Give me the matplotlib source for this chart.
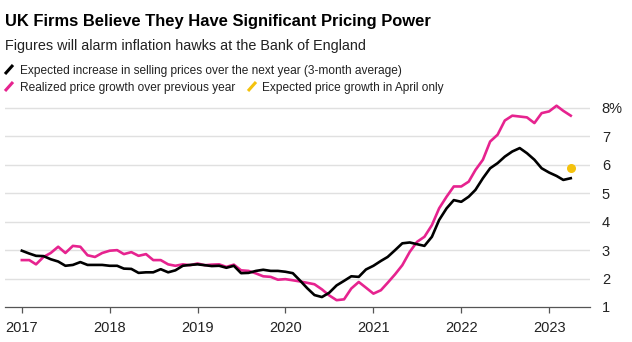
import numpy as np
import pandas as pd
import matplotlib
matplotlib.use("Agg")
from matplotlib import pyplot as plt
from matplotlib.lines import Line2D
import matplotlib.dates as mdates

# Monthly survey figures, Jan 2017 - Apr 2023
months = pd.date_range("2017-01-01", "2023-04-01", freq="MS")

expected = [
    2.98, 2.88, 2.80, 2.79, 2.68, 2.60, 2.45, 2.48, 2.58, 2.48, 2.48, 2.48,
    2.45, 2.45, 2.35, 2.34, 2.20, 2.22, 2.22, 2.33, 2.22, 2.29, 2.45, 2.48,
    2.50, 2.47, 2.44, 2.45, 2.38, 2.45, 2.19, 2.20, 2.27, 2.31, 2.27, 2.27,
    2.24, 2.19, 1.94, 1.66, 1.42, 1.35, 1.50, 1.76, 1.92, 2.08, 2.06, 2.32,
    2.45, 2.62, 2.76, 3.00, 3.24, 3.27, 3.21, 3.15, 3.47, 4.06, 4.47, 4.76,
    4.70, 4.88, 5.12, 5.53, 5.88, 6.06, 6.29, 6.47, 6.59, 6.41, 6.18, 5.88,
    5.73, 5.61, 5.47, 5.53,
]
realized = [
    2.65, 2.65, 2.50, 2.76, 2.90, 3.12, 2.90, 3.15, 3.12, 2.82, 2.76, 2.90,
    2.98, 3.00, 2.86, 2.93, 2.80, 2.86, 2.65, 2.65, 2.50, 2.45, 2.50, 2.47,
    2.53, 2.47, 2.49, 2.50, 2.41, 2.49, 2.29, 2.27, 2.18, 2.08, 2.06, 1.96,
    1.98, 1.94, 1.90, 1.85, 1.80, 1.62, 1.41, 1.24, 1.27, 1.65, 1.88, 1.68,
    1.47, 1.59, 1.85, 2.15, 2.47, 2.94, 3.29, 3.47, 3.88, 4.47, 4.88, 5.24,
    5.24, 5.41, 5.82, 6.18, 6.82, 7.06, 7.56, 7.73, 7.70, 7.67, 7.47, 7.82,
    7.88, 8.08, 7.90, 7.73,
]
april_date = pd.Timestamp("2023-04-01")
april_value = 5.9

year_ticks = [pd.Timestamp(f"{y}-01-01") for y in range(2017, 2024)]
year_labels = [str(y) for y in range(2017, 2024)]
y_ticks = [1, 2, 3, 4, 5, 6, 7, 8]
y_labels = ["1", "2", "3", "4", "5", "6", "7", "8%"]

BLACK = "#000000"
PINK = "#e6238f"
YELLOW = "#f4c20d"
GRID = "#e0e0e0"
TEXT = "#222222"

plt.rcParams["font.family"] = ["Liberation Sans", "DejaVu Sans"]

W, H = 632, 342
fig = plt.figure(figsize=(W / 100, H / 100), dpi=100)

def fx(px):
    return px / W

def fy(py):
    return 1 - py / H

# header
fig.text(fx(5), fy(26), "UK Firms Believe They Have Significant Pricing Power",
         fontsize=11.9, fontweight="bold", color="#000000", va="baseline")
fig.text(fx(5), fy(50), "Figures will alarm inflation hawks at the Bank of England",
         fontsize=10.4, color=TEXT, va="baseline")

# legend rows
def slash(x0, ybase, color):
    fig.add_artist(Line2D([fx(x0), fx(x0 + 8)], [fy(ybase), fy(ybase - 9)],
                          color=color, lw=2.2, solid_capstyle="butt"))

slash(5, 74, BLACK)
fig.text(fx(20), fy(74), "Expected increase in selling prices over the next year (3-month average)",
         fontsize=8.6, color=TEXT, va="baseline")
slash(5, 91, PINK)
fig.text(fx(20), fy(91), "Realized price growth over previous year",
         fontsize=8.6, color=TEXT, va="baseline")
slash(248, 91, YELLOW)
fig.text(fx(262), fy(91), "Expected price growth in April only",
         fontsize=8.6, color=TEXT, va="baseline")

# plot area: y=1 at px 307, y=8 at px 108
ymin, ymax = 1.0, 8.3
unit = (307 - 108) / 7
top_px = 108 - (ymax - 8) * unit
ax = fig.add_axes([fx(5), fy(307), fx(590) - fx(5), (307 - top_px) / H])

ax.plot(months, realized, color=PINK, lw=1.9, solid_joinstyle="round", clip_on=False, zorder=3)
ax.plot(months, expected, color=BLACK, lw=1.9, solid_joinstyle="round", clip_on=False, zorder=4)
ax.scatter([april_date], [april_value], s=30, color=YELLOW, zorder=5, clip_on=False)

ax.set_xlim(pd.Timestamp("2016-10-23"), pd.Timestamp("2023-06-20"))
ax.set_ylim(ymin, ymax)

for v in y_ticks[1:]:
    ax.axhline(v, color=GRID, lw=1.0, zorder=1)

for s in ["top", "left", "right"]:
    ax.spines[s].set_visible(False)
ax.spines["bottom"].set_color("#555555")
ax.spines["bottom"].set_linewidth(0.9)

ax.set_xticks(year_ticks)
ax.set_xticklabels(year_labels)
ax.tick_params(axis="x", length=4, width=0.9, color="#555555", pad=6,
               labelsize=10.5, labelcolor=TEXT)

ax.yaxis.tick_right()
ax.set_yticks(y_ticks)
ax.set_yticklabels(y_labels)
ax.tick_params(axis="y", length=0, pad=8.5, labelsize=10.5, labelcolor=TEXT)
for lbl in ax.get_yticklabels():
    lbl.set_horizontalalignment("left")

ax.set_facecolor("none")
fig.savefig("out.png", dpi=100, facecolor="white")
